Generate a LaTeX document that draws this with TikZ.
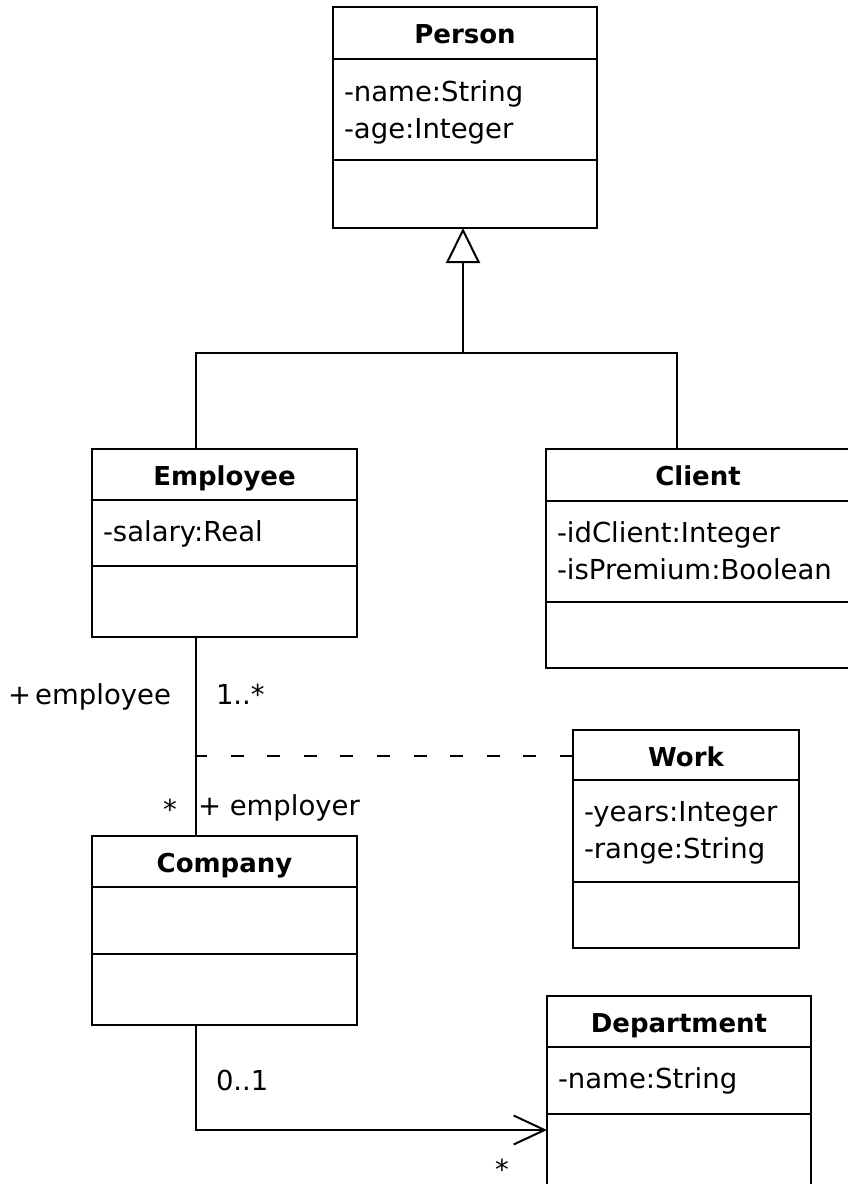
\documentclass[tikz,border=0pt]{standalone}
\usepackage{fontspec}
\setmainfont{DejaVu Sans}
\usetikzlibrary{arrows.meta}

% One UML class box: name, title, left, top, right, first separator, second separator, bottom
\newcommand\umlclass[8]{%
  \node[classbox, minimum width={#5-#3}, minimum height={#8-#4}] (#1) at (#3,#4) {};
  \draw (#3,#6) -- (#5,#6);
  \draw (#3,#7) -- (#5,#7);
  \node[classtitle] (#1-title) at ({(#3+#5)/2},{#4+36}) {#2};
}

\begin{document}
\begin{tikzpicture}[x=1pt, y=-1pt, line width=2pt,
  classbox/.style={draw, rectangle, inner sep=0pt, outer sep=0pt, anchor=north west},
  classtitle/.style={font=\fontsize{26}{31}\selectfont\bfseries, inner sep=0pt, anchor=base},
  attr/.style={font=\fontsize{27.5}{32}\selectfont, inner sep=0pt, anchor=base west},
  role/.style={font=\fontsize{27.5}{32}\selectfont, inner sep=0pt},
  gen/.style={-{Triangle[open, length=35pt, width=34pt]}},
  nav/.style={-{Straight Barb[length=31pt, width=29pt]}},
  assocclass/.style={dash pattern=on 13pt off 23.6pt},
]
\useasboundingbox (0,0) rectangle (848,1184);
\clip (0,0) rectangle (848,1184);

% classes
\umlclass{person}{Person}{333}{7}{597}{59}{160}{228}
\node[attr] (person-a1) at (343,101) {-name:String};
\node[attr] (person-a2) at (343,138) {-age:Integer};

\umlclass{employee}{Employee}{92}{449}{357}{500}{566}{637}
\node[attr] (employee-a1) at (102,541) {-salary:Real};

\umlclass{client}{Client}{546}{449}{850}{501}{602}{668}
\node[attr] (client-a1) at (556,542) {-idClient:Integer};
\node[attr] (client-a2) at (556,579) {-isPremium:Boolean};

\umlclass{work}{Work}{573}{730}{799}{780}{882}{948}
\node[attr] (work-a1) at (583,821) {-years:Integer};
\node[attr] (work-a2) at (583,858) {-range:String};

\umlclass{company}{Company}{92}{836}{357}{887}{954}{1025}

\umlclass{department}{Department}{547}{996}{811}{1047}{1114}{1240}
\node[attr] (department-a1) at (557,1088) {-name:String};

% generalization
\coordinate (hub) at (463,353);
\draw[gen] (hub) -- ([xshift=-2pt]person.south);
\draw ([xshift=-28.5pt]employee.north) |- (hub) -| ([xshift=-21pt]client.north);

% association Employee -- Company with association class Work
\draw ([xshift=-28.5pt]employee.south) -- ([xshift=-28.5pt]company.north);
\coordinate (assoc) at (197,756);
\draw[assocclass] (work.west |- assoc) -- (assoc);
\node[role, anchor=base east] (r-employee) at (172,704) {+\hspace{0.15em}employee};
\node[role, anchor=base west] (m-employee) at (215,704) {1..*};
\node[role, anchor=base] (m-employer) at (170,819) {*};
\node[role, anchor=base west] (r-employer) at (197,815) {+ employer};

% navigable association Company -> Department
\coordinate (bend) at (196,1130);
\draw[nav] ([xshift=-28.5pt]company.south) -- (bend) -- (department.west |- bend);
\node[role, anchor=base west] (m-company) at (215,1090) {0..1};
\node[role, anchor=base] (m-department) at (502,1179) {*};
\end{tikzpicture}
\end{document}
